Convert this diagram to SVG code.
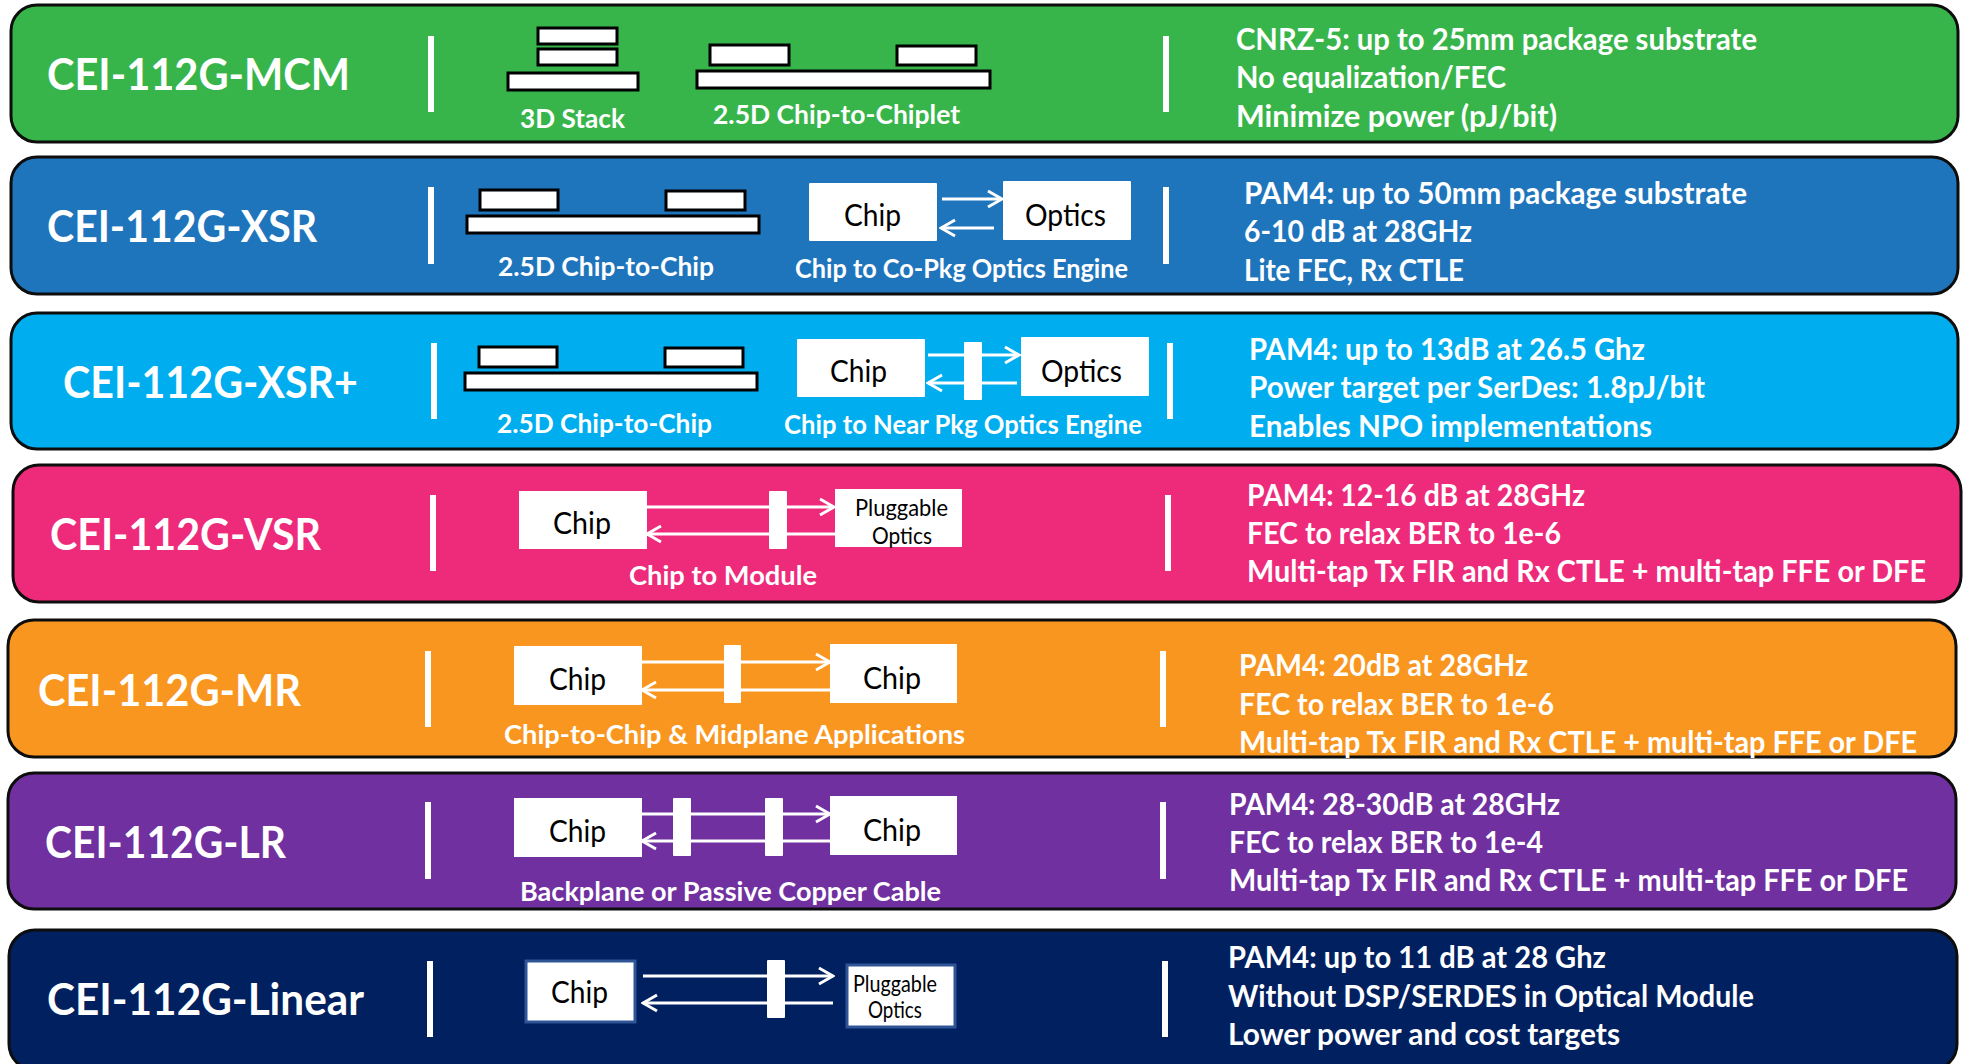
<svg xmlns="http://www.w3.org/2000/svg" width="1972" height="1064" viewBox="0 0 1972 1064">
<style>
text{font-family:Lato,"Liberation Sans",sans-serif}
.band{stroke:#0d0d0d;stroke-width:3}
.t{font-size:43px;font-weight:700;fill:#fff}
.d{font-size:30px;font-weight:700;fill:#fff}
.l{font-size:26px;font-weight:700;fill:#fff}
.c{font-size:30px;fill:#000}
.p{font-size:23px;fill:#000}
.s{fill:#fff;stroke:#000;stroke-width:3}
.w{fill:#fff}
.div{fill:#fff}
.e{fill:#fff;stroke:#2f5597;stroke-width:3}
.a{stroke:#fff;stroke-width:3;fill:none;marker-end:url(#h)}
</style>
<defs>
<marker id="h" markerUnits="userSpaceOnUse" markerWidth="18" markerHeight="20" viewBox="0 0 18 20" refX="16" refY="10" orient="auto">
<path d="M2 2L16 10L2 18" fill="none" stroke="#fff" stroke-width="3"/>
</marker>
</defs>
<rect width="1972" height="1064" fill="#fff"/>

<g id="band-mcm">
<rect class="band" x="11" y="5" width="1947" height="137" rx="26" fill="#37b54a"/>
<rect class="div" x="428" y="36" width="6" height="76"/><rect class="div" x="1163" y="36" width="6" height="76"/>
<text class="t" x="47" y="90" textLength="303" lengthAdjust="spacingAndGlyphs">CEI-112G-MCM</text>
<text class="l" x="520" y="128" textLength="105" lengthAdjust="spacingAndGlyphs">3D Stack</text>
<text class="l" x="713" y="124" textLength="247" lengthAdjust="spacingAndGlyphs">2.5D Chip-to-Chiplet</text>
<text class="d" x="1236" y="50" textLength="521" lengthAdjust="spacingAndGlyphs">CNRZ-5: up to 25mm package substrate</text>
<text class="d" x="1236" y="88" textLength="270" lengthAdjust="spacingAndGlyphs">No equalization/FEC</text>
<text class="d" x="1236" y="127" textLength="321" lengthAdjust="spacingAndGlyphs">Minimize power (pJ/bit)</text>
</g>
<g id="band-xsr">
<rect class="band" x="11" y="157" width="1947" height="137" rx="26" fill="#1f75bc"/>
<rect class="div" x="428" y="187" width="6" height="77"/><rect class="div" x="1163" y="187" width="6" height="77"/>
<text class="t" x="47" y="242" textLength="270" lengthAdjust="spacingAndGlyphs">CEI-112G-XSR</text>
<text class="l" x="498" y="276" textLength="216" lengthAdjust="spacingAndGlyphs">2.5D Chip-to-Chip</text>
<text class="l" x="795" y="278" textLength="333" lengthAdjust="spacingAndGlyphs">Chip to Co-Pkg Optics Engine</text>
<text class="d" x="1244" y="204" textLength="503" lengthAdjust="spacingAndGlyphs">PAM4: up to 50mm package substrate</text>
<text class="d" x="1244" y="242" textLength="228" lengthAdjust="spacingAndGlyphs">6-10 dB at 28GHz</text>
<text class="d" x="1244" y="281" textLength="220" lengthAdjust="spacingAndGlyphs">Lite FEC, Rx CTLE</text>
</g>
<g id="band-xsr-plus">
<rect class="band" x="11" y="313" width="1947" height="136" rx="26" fill="#00aeef"/>
<rect class="div" x="431" y="343" width="6" height="76"/><rect class="div" x="1167" y="343" width="6" height="76"/>
<text class="t" x="63" y="398" textLength="295" lengthAdjust="spacingAndGlyphs">CEI-112G-XSR+</text>
<text class="l" x="497" y="433" textLength="215" lengthAdjust="spacingAndGlyphs">2.5D Chip-to-Chip</text>
<text class="l" x="784" y="434" textLength="358" lengthAdjust="spacingAndGlyphs">Chip to Near Pkg Optics Engine</text>
<text class="d" x="1249" y="360" textLength="396" lengthAdjust="spacingAndGlyphs">PAM4: up to 13dB at 26.5 Ghz</text>
<text class="d" x="1249" y="398" textLength="456" lengthAdjust="spacingAndGlyphs">Power target per SerDes: 1.8pJ/bit</text>
<text class="d" x="1249" y="437" textLength="403" lengthAdjust="spacingAndGlyphs">Enables NPO implementations</text>
</g>
<g id="band-vsr">
<rect class="band" x="13" y="465" width="1948" height="137" rx="26" fill="#ee2a7b"/>
<rect class="div" x="430" y="495" width="6" height="76"/><rect class="div" x="1165" y="495" width="6" height="76"/>
<text class="t" x="50" y="550" textLength="271" lengthAdjust="spacingAndGlyphs">CEI-112G-VSR</text>
<text class="l" x="629" y="585" textLength="188" lengthAdjust="spacingAndGlyphs">Chip to Module</text>
<text class="d" x="1247" y="506" textLength="338" lengthAdjust="spacingAndGlyphs">PAM4: 12-16 dB at 28GHz</text>
<text class="d" x="1247" y="544" textLength="314" lengthAdjust="spacingAndGlyphs">FEC to relax BER to 1e-6</text>
<text class="d" x="1247" y="582" textLength="679" lengthAdjust="spacingAndGlyphs">Multi-tap Tx FIR and Rx CTLE + multi-tap FFE or DFE</text>
</g>
<g id="band-mr">
<rect class="band" x="8" y="620" width="1948" height="137" rx="26" fill="#f9961f"/>
<rect class="div" x="425" y="651" width="6" height="76"/><rect class="div" x="1160" y="651" width="6" height="76"/>
<text class="t" x="38" y="706" textLength="263" lengthAdjust="spacingAndGlyphs">CEI-112G-MR</text>
<text class="l" x="504" y="744" textLength="461" lengthAdjust="spacingAndGlyphs">Chip-to-Chip &amp; Midplane Applications</text>
<text class="d" x="1239" y="676" textLength="289" lengthAdjust="spacingAndGlyphs">PAM4: 20dB at 28GHz</text>
<text class="d" x="1239" y="715" textLength="315" lengthAdjust="spacingAndGlyphs">FEC to relax BER to 1e-6</text>
<text class="d" x="1239" y="753" textLength="678" lengthAdjust="spacingAndGlyphs">Multi-tap Tx FIR and Rx CTLE + multi-tap FFE or DFE</text>
</g>
<g id="band-lr">
<rect class="band" x="8" y="773" width="1948" height="136" rx="26" fill="#7030a0"/>
<rect class="div" x="425" y="802" width="6" height="77"/><rect class="div" x="1160" y="802" width="6" height="77"/>
<text class="t" x="45" y="858" textLength="241" lengthAdjust="spacingAndGlyphs">CEI-112G-LR</text>
<text class="l" x="520" y="901" textLength="421" lengthAdjust="spacingAndGlyphs">Backplane or Passive Copper Cable</text>
<text class="d" x="1229" y="815" textLength="331" lengthAdjust="spacingAndGlyphs">PAM4: 28-30dB at 28GHz</text>
<text class="d" x="1229" y="853" textLength="314" lengthAdjust="spacingAndGlyphs">FEC to relax BER to 1e-4</text>
<text class="d" x="1229" y="891" textLength="679" lengthAdjust="spacingAndGlyphs">Multi-tap Tx FIR and Rx CTLE + multi-tap FFE or DFE</text>
</g>
<g id="band-linear">
<rect class="band" x="9" y="930" width="1948" height="140" rx="26" fill="#002060"/>
<rect class="div" x="427" y="961" width="6" height="76"/><rect class="div" x="1162" y="961" width="6" height="76"/>
<text class="t" x="47" y="1015" textLength="317" lengthAdjust="spacingAndGlyphs">CEI-112G-Linear</text>
<text class="d" x="1228" y="968" textLength="378" lengthAdjust="spacingAndGlyphs">PAM4: up to 11 dB at 28 Ghz</text>
<text class="d" x="1228" y="1007" textLength="526" lengthAdjust="spacingAndGlyphs">Without DSP/SERDES in Optical Module</text>
<text class="d" x="1228" y="1045" textLength="392" lengthAdjust="spacingAndGlyphs">Lower power and cost targets</text>
</g>

<g id="connectors">
<line class="a" x1="942" y1="199" x2="1002" y2="199"/>
<line class="a" x1="994" y1="228" x2="941" y2="228"/>
<line class="a" x1="928" y1="355" x2="1019" y2="355"/>
<line class="a" x1="1017" y1="383" x2="928" y2="383"/>
<line class="a" x1="647" y1="507" x2="834" y2="507"/>
<line class="a" x1="835" y1="534" x2="647" y2="534"/>
<line class="a" x1="642" y1="662" x2="830" y2="662"/>
<line class="a" x1="830" y1="690" x2="642" y2="690"/>
<line class="a" x1="642" y1="814" x2="830" y2="814"/>
<line class="a" x1="830" y1="841" x2="642" y2="841"/>
<line class="a" x1="643" y1="976" x2="833" y2="976"/>
<line class="a" x1="833" y1="1003" x2="643" y2="1003"/>
</g>

<g id="mcm-3d-stack">
<rect class="s" x="538" y="28" width="79" height="16"/>
<rect class="s" x="538" y="49" width="79" height="16"/>
<rect class="s" x="508" y="73" width="130" height="17"/>
</g>
<g id="mcm-chiplet">
<rect class="s" x="710" y="45" width="79" height="20"/>
<rect class="s" x="897" y="46" width="79" height="19"/>
<rect class="s" x="697" y="71" width="293" height="17"/>
</g>
<g id="xsr-chip-to-chip">
<rect class="s" x="480" y="190" width="78" height="20"/>
<rect class="s" x="666" y="191" width="79" height="19"/>
<rect class="s" x="467" y="216" width="292" height="17"/>
</g>
<g id="xsr-chip"><rect class="w" x="809" y="183" width="128" height="58" rx="1"/><text class="c" x="844" y="226" textLength="57" lengthAdjust="spacingAndGlyphs">Chip</text></g>
<g id="xsr-optics"><rect class="w" x="1003" y="181" width="128" height="59" rx="1"/><text class="c" x="1025" y="226" textLength="81" lengthAdjust="spacingAndGlyphs">Optics</text></g>

<g id="xsrp-chip-to-chip">
<rect class="s" x="479" y="347" width="78" height="20"/>
<rect class="s" x="665" y="348" width="78" height="19"/>
<rect class="s" x="465" y="373" width="292" height="17"/>
</g>
<g id="xsrp-chip"><rect class="w" x="797" y="339" width="128" height="58" rx="1"/><text class="c" x="830" y="382" textLength="57" lengthAdjust="spacingAndGlyphs">Chip</text></g>
<g id="xsrp-retimer"><rect class="w" x="964" y="342" width="18" height="58" rx="1"/></g>
<g id="xsrp-optics"><rect class="w" x="1021" y="337" width="128" height="59" rx="1"/><text class="c" x="1041" y="382" textLength="81" lengthAdjust="spacingAndGlyphs">Optics</text></g>

<g id="vsr-chip"><rect class="w" x="519" y="491" width="128" height="58"/><text class="c" x="553" y="534" textLength="58" lengthAdjust="spacingAndGlyphs">Chip</text></g>
<g id="vsr-bar"><rect class="w" x="769" y="491" width="18" height="58" rx="1"/></g>
<g id="vsr-optics"><rect class="w" x="835" y="489" width="127" height="58"/><text class="p" x="855" y="516" textLength="93" lengthAdjust="spacingAndGlyphs">Pluggable</text><text class="p" x="872" y="544" textLength="60" lengthAdjust="spacingAndGlyphs">Optics</text></g>

<g id="mr-chip-a"><rect class="w" x="514" y="646" width="128" height="59"/><text class="c" x="549" y="690" textLength="57" lengthAdjust="spacingAndGlyphs">Chip</text></g>
<g id="mr-bar"><rect class="w" x="724" y="645" width="17" height="58" rx="1"/></g>
<g id="mr-chip-b"><rect class="w" x="830" y="644" width="127" height="59"/><text class="c" x="863" y="689" textLength="58" lengthAdjust="spacingAndGlyphs">Chip</text></g>

<g id="lr-chip-a"><rect class="w" x="514" y="798" width="128" height="59"/><text class="c" x="549" y="842" textLength="57" lengthAdjust="spacingAndGlyphs">Chip</text></g>
<g id="lr-bar-a"><rect class="w" x="673" y="798" width="18" height="58" rx="1"/></g>
<g id="lr-bar-b"><rect class="w" x="765" y="798" width="18" height="58" rx="1"/></g>
<g id="lr-chip-b"><rect class="w" x="830" y="796" width="127" height="59"/><text class="c" x="863" y="841" textLength="58" lengthAdjust="spacingAndGlyphs">Chip</text></g>

<g id="linear-chip"><rect class="e" x="526" y="961" width="109" height="61"/><text class="c" x="551" y="1003" textLength="57" lengthAdjust="spacingAndGlyphs">Chip</text></g>
<g id="linear-bar"><rect class="w" x="767" y="960" width="18" height="58" rx="1"/></g>
<g id="linear-optics"><rect class="e" x="847" y="965" width="108" height="62"/><text class="p" x="853" y="992" textLength="84" lengthAdjust="spacingAndGlyphs">Pluggable</text><text class="p" x="868" y="1018" textLength="54" lengthAdjust="spacingAndGlyphs">Optics</text></g>
</svg>
